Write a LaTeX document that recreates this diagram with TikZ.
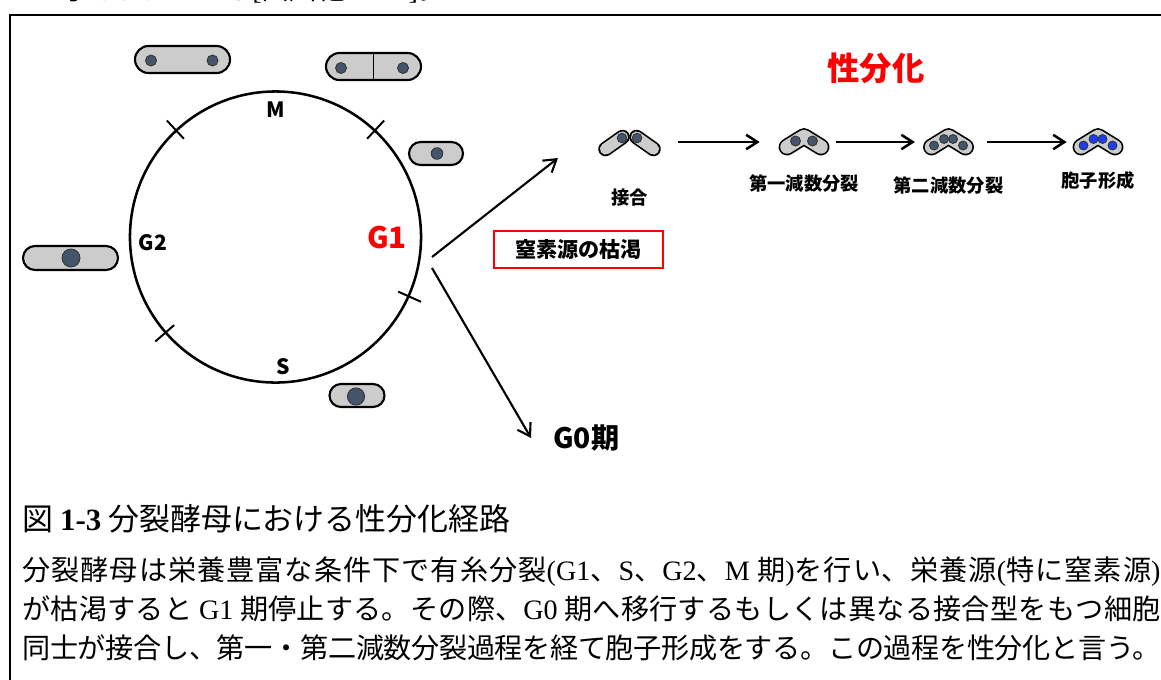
\documentclass[tikz,border=0pt]{standalone}
\usepackage{fontspec}
\usetikzlibrary{arrows.meta, positioning, calc, shapes.misc}
\newfontfamily\jp{Noto Sans CJK JP}
\newfontfamily\cen{Liberation Serif}
\definecolor{cellgray}{RGB}{204,204,204}
\definecolor{nucgray}{RGB}{68,84,106}
\definecolor{sporeblue}{RGB}{30,60,240}
\definecolor{sexred}{RGB}{255,0,0}
\tikzset{
	cyc/.style      ={circle, draw=black, line width=1.8pt, minimum size=7.275cm, inner sep=0pt},
	cyctick/.style  ={line width=1.4pt},
	phase/.style    ={font=\jp\bfseries\fontsize{15}{15}\selectfont, inner sep=0pt},
	pill/.style     ={rounded rectangle, draw=black, line width=1.5pt, fill=cellgray, inner sep=0pt},
	nuc/.style      ={fill=nucgray, draw=black!80, line width=0.6pt},
	spore/.style    ={fill=sporeblue, draw=black!80, line width=0.6pt},
	rim/.style      ={draw=black, line width=12pt, line cap=round, line join=round},
	body/.style     ={draw=cellgray, line width=9.6pt, line cap=round, line join=round},
	cellspot/.style ={minimum height=0.7cm, inner sep=0pt},
	stage/.style    ={font=\jp\bfseries\fontsize{13}{13}\selectfont, inner sep=0pt},
	flowarrow/.style={-{Straight Barb[length=2.8mm, width=3.6mm]}, line width=1.8pt},
	fate/.style     ={-{Straight Barb[length=3mm, width=3.8mm]}, line width=1.5pt},
	starve/.style   ={draw=sexred, line width=2pt, minimum width=4.225cm, minimum height=0.925cm, inner sep=0pt, font=\jp\bfseries\fontsize{15}{15}\selectfont},
	capline/.style  ={font=\jp\fontsize{20}{28}\selectfont, inner sep=0pt},
	captitle/.style ={font=\jp\fontsize{22}{24}\selectfont, inner sep=0pt},
	pics/matingpair/.style={code={
		\draw[rim, line width=10.4pt] (-24,7) -- (-7,-5);
		\draw[body, line width=8pt] (-24,7) -- (-7,-5);
		\draw[rim, line width=10.4pt] (7,-5) -- (24,7);
		\draw[body, line width=8pt] (7,-5) -- (24,7);
	}},
	pics/ascus/.style={code={
		\draw[rim] (-17,5) -- (0,-5.5) -- (17,5);
		\draw[body] (-17,5) -- (0,-5.5) -- (17,5);
	}},
}

\begin{document}
\begin{tikzpicture}[x=0.025cm, y=-0.025cm]
	\useasboundingbox (0,0) rectangle (1161,679);
	\draw[line width=2pt] (10,720) -- (10,15) -- (1200,15);
	\node[capline, anchor=base west] (prev) at (28,-1) {と考えられている{\cen [}西川他~{\cen 2006]}。};

	% mitotic cycle
	\node[cyc] (cyc) at (275.5,237) {};
	\foreach \a in {133,47.7,-24.6,221.1}
		\draw[cyctick] ($(cyc.center)!0.915!(cyc.\a)$) -- ($(cyc.center)!1.085!(cyc.\a)$);
	\node[phase] (pm) at (276,110) {M};
	\node[phase] (pg2) at (153,243) {G2};
	\node[phase] (ps) at (283,367) {S};
	\node[phase, text=sexred, font=\jp\bfseries\fontsize{21}{21}\selectfont] (pg1) at (387,238) {G1};

	\node[pill, minimum width=2.375cm, minimum height=0.675cm] (late) at (182.5,59.5) {};
	\filldraw[nuc] (151,60.5) circle[radius=5.5];
	\filldraw[nuc] (212.5,60.5) circle[radius=5.5];
	\node[pill, minimum width=2.375cm, minimum height=0.675cm] (septum) at (373.5,66.5) {};
	\draw[line width=0.9pt] (septum.north) -- (septum.south);
	\filldraw[nuc] (341,68) circle[radius=5.5];
	\filldraw[nuc] (403,68) circle[radius=5.5];
	\node[pill, minimum width=1.35cm, minimum height=0.575cm] (young) at (436,153.5) {};
	\filldraw[nuc] (437,153.5) circle[radius=5.8];
	\node[pill, minimum width=1.375cm, minimum height=0.575cm] (grow) at (357,395.5) {};
	\filldraw[nuc] (356,396.5) circle[radius=8.6];
	\node[pill, minimum width=2.375cm, minimum height=0.6cm] (long) at (70.5,258) {};
	\filldraw[nuc] (71,258) circle[radius=9];

	% exit from G1
	\coordinate (g1up) at (432,257);
	\coordinate (g1dn) at (432,268);
	\coordinate (toMate) at (558,158);
	\node[starve] (nstarve) at (578.5,249.5) {窒素源の枯渇};
	\node[anchor=west, inner sep=0pt, font=\jp\bfseries\fontsize{20}{20}\selectfont] (g0) at (553,438) {G0期};
	\draw[fate] (g1up) -- (toMate);
	\draw[fate] (g1dn) -- ([xshift=-0.55cm]g0.west);

	% sexual differentiation
	\node[inner sep=0pt, text=sexred, font=\jp\bfseries\fontsize{23}{23}\selectfont] (sexdiff) at (876,68) {性分化};
	\node[cellspot, minimum width=1.575cm] (mate) at (629.5,142) {};
	\node[cellspot, minimum width=1.3cm] (zyg) at (804,142) {};
	\node[cellspot, minimum width=1.225cm] (tetra) at (948.5,142) {};
	\node[cellspot, minimum width=1.25cm] (asci) at (1098,142) {};
	\pic at (mate) {matingpair};
	\pic at (zyg) {ascus};
	\pic at (tetra) {ascus};
	\pic at (asci) {ascus};
	\foreach \dx in {-7.5,7.5}
		\filldraw[nuc] ([shift={(\dx,-4)}]mate.center) circle[radius=4.8];
	\foreach \dx in {-8.5,8.5}
		\filldraw[nuc] ([shift={(\dx,-1)}]zyg.center) circle[radius=5];
	\foreach \dx/\dy in {-14.5/3.5,-4.5/-3,4.5/-3,14.5/3.5} {
		\filldraw[nuc] ([shift={(\dx,\dy)}]tetra.center) circle[radius=4.5];
		\filldraw[spore] ([shift={(\dx,\dy)}]asci.center) circle[radius=4.5];
	}
	\node[stage, below=0.8cm of mate] (lmate) {接合};
	\node[stage, below=0.45cm of zyg] (lzyg) {第一減数分裂};
	\node[stage, below=0.5cm of tetra] (ltetra) {第二減数分裂};
	\node[stage, below=0.38cm of asci] (lasci) {胞子形成};
	\draw[flowarrow, shorten <=0.42cm, shorten >=0.45cm] (mate) -- (zyg);
	\draw[flowarrow, shorten <=0.15cm, shorten >=0.22cm] (zyg) -- (tetra);
	\draw[flowarrow, shorten <=0.35cm, shorten >=0.15cm] (tetra) -- (asci);

	% caption
	\node[captitle, anchor=west] (ttl) at (22,519) {図 {\cen\bfseries 1-3} 分裂酵母における性分化経路};
	\node[capline, anchor=north west, text width=28.45cm, align=justify] (body) at (22,556) {%
		\XeTeXlinebreaklocale "ja"\XeTeXlinebreakskip=0pt plus 2pt minus 0.3pt\XeTeXlinebreakpenalty=10000\parfillskip=0pt
		分裂酵母は栄養豊富な条件下で有糸分裂{\cen (G1}、{\cen S}、{\cen G2}、{\cen M}~期{\cen )}を行い、栄養源{\cen (}特に窒素源{\cen )}\linebreak
		が枯渇すると~{\cen G1}~期停止する。その際、{\cen G0}~期へ移行するもしくは異なる接合型をもつ細胞\linebreak
		同士が接合し、第一・第二減数分裂過程を経て胞子形成をする。この過程を性分化と言う。\par};
\end{tikzpicture}
\end{document}
